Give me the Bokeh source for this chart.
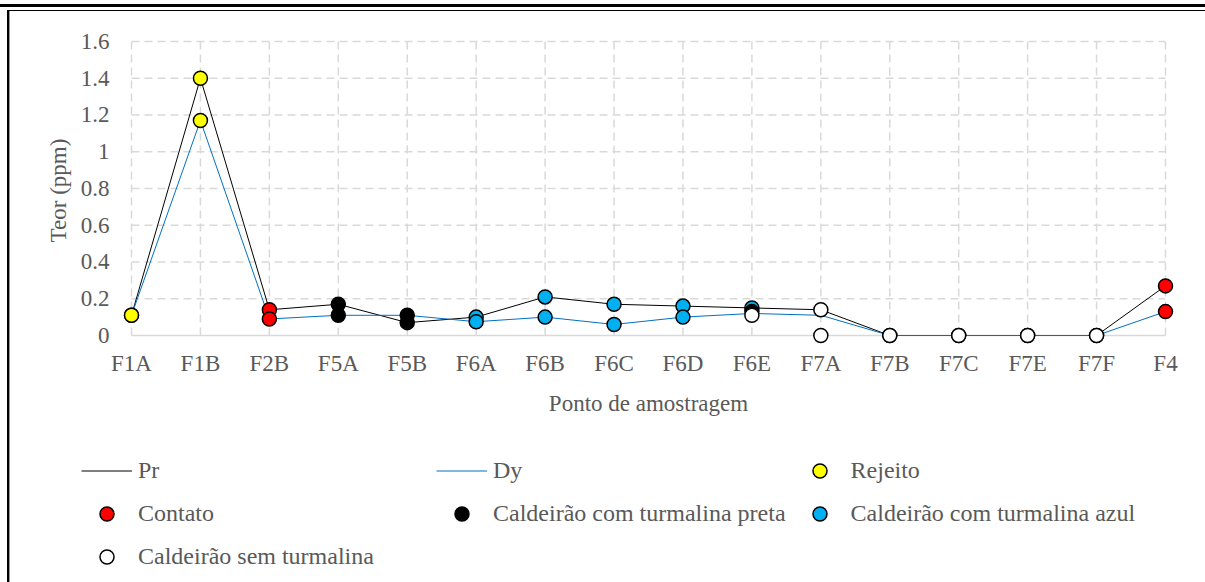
from bokeh.plotting import figure
from bokeh.layouts import column
from bokeh.models import Range1d, FixedTicker, Legend, LegendItem, GlobalInlineStyleSheet
from bokeh.embed import file_html
from bokeh.resources import INLINE

# ---- data ----
categories = ["F1A", "F1B", "F2B", "F5A", "F5B", "F6A", "F6B", "F6C",
              "F6D", "F6E", "F7A", "F7B", "F7C", "F7E", "F7F", "F4"]
pr_values = [0.11, 1.40, 0.14, 0.17, 0.07, 0.10, 0.21, 0.17,
             0.16, 0.15, 0.14, 0, 0, 0, 0, 0.27]
dy_values = [0.11, 1.17, 0.09, 0.11, 0.11, 0.075, 0.10, 0.06,
             0.10, 0.12, 0.11, 0, 0, 0, 0, 0.13]

rejeito_cat = ["F1A", "F1B", "F1A", "F1B"]
rejeito_val = [0.11, 1.40, 0.11, 1.17]
contato_cat = ["F2B", "F4", "F2B", "F4"]
contato_val = [0.14, 0.27, 0.09, 0.13]
azul_cat = ["F6A", "F6B", "F6C", "F6D", "F6E", "F6A", "F6B", "F6C", "F6D"]
azul_val = [0.10, 0.21, 0.17, 0.16, 0.15, 0.075, 0.10, 0.06, 0.10]
preta_cat = ["F5A", "F5B", "F5A", "F5B", "F6E"]
preta_val = [0.17, 0.11, 0.11, 0.07, 0.13]
sem_cat = ["F7A", "F7B", "F7C", "F7E", "F7F", "F6E", "F7A", "F7B", "F7C", "F7E", "F7F"]
sem_val = [0.14, 0, 0, 0, 0, 0.11, 0, 0, 0, 0, 0]

y_ticks = [0, 0.2, 0.4, 0.6, 0.8, 1.0, 1.2, 1.4, 1.6]
y_tick_labels = ["0", "0.2", "0.4", "0.6", "0.8", "1", "1.2", "1.4", "1.6"]

legend_labels = ["Pr", "Dy", "Rejeito", "Contato", "Caldeirão com turmalina preta",
                 "Caldeirão com turmalina azul", "Caldeirão sem turmalina"]

FONT = "Liberation Serif"
GREY = "#595959"
GRID = "#D9D9D9"
PR_COLOR = "black"
DY_COLOR = "#0070C0"
GROUP_COLORS = {"Rejeito": "#FFFF00", "Contato": "#FF0000",
                "Caldeirão com turmalina preta": "#000000",
                "Caldeirão com turmalina azul": "#00B0F0",
                "Caldeirão sem turmalina": "#FFFFFF"}

xi = list(range(len(categories)))

p = figure(width=1200, height=450, output_backend="svg", toolbar_location=None,
           frame_width=1052, frame_height=308,
           min_border_left=122, min_border_top=36, min_border_right=26, min_border_bottom=106,
           x_range=Range1d(-0.1306, 15.1306), y_range=Range1d(-0.04898, 1.6272))
p.border_fill_color = None
p.background_fill_color = "white"
p.outline_line_color = None
p.xgrid.visible = False
p.ygrid.visible = False

# grid lines (dashed) bounded to the data area
xmin, xmax = xi[0], xi[-1]
ymin, ymax = y_ticks[0], y_ticks[-1]
p.segment(x0=[xmin] * (len(y_ticks) - 1), x1=[xmax] * (len(y_ticks) - 1),
          y0=y_ticks[1:], y1=y_ticks[1:], line_color=GRID, line_width=1.5, line_dash="8 5")
p.segment(x0=xi, x1=xi, y0=[ymin] * len(xi), y1=[ymax] * len(xi),
          line_color=GRID, line_width=1.5, line_dash="8 5")
p.segment(x0=[xmin], x1=[xmax], y0=[0], y1=[0], line_color=GRID, line_width=1.5)

# series lines
p.line(xi, pr_values, line_color=PR_COLOR, line_width=1)
p.line(xi, dy_values, line_color=DY_COLOR, line_width=1)


def idx(cats):
    return [categories.index(c) for c in cats]


mk = dict(size=14, line_color="black", line_width=1.5)
p.scatter(idx(rejeito_cat), rejeito_val, fill_color=GROUP_COLORS["Rejeito"], **mk)
p.scatter(idx(contato_cat), contato_val, fill_color=GROUP_COLORS["Contato"], **mk)
p.scatter(idx(azul_cat), azul_val, fill_color=GROUP_COLORS["Caldeirão com turmalina azul"], **mk)
p.scatter(idx(preta_cat), preta_val, fill_color=GROUP_COLORS["Caldeirão com turmalina preta"], **mk)
p.scatter(idx(sem_cat), sem_val, fill_color=GROUP_COLORS["Caldeirão sem turmalina"], **mk)

# axes
p.xaxis.ticker = FixedTicker(ticks=xi)
p.xaxis.major_label_overrides = {i: c for i, c in zip(xi, categories)}
p.yaxis.ticker = FixedTicker(ticks=y_ticks)
p.yaxis.major_label_overrides = {t: l for t, l in zip(y_ticks, y_tick_labels)}
for ax in (p.xaxis, p.yaxis):
    ax.axis_line_color = None
    ax.major_tick_line_color = None
    ax.minor_tick_line_color = None
    ax.major_label_text_font = FONT
    ax.major_label_text_font_size = "23px"
    ax.major_label_text_color = GREY
    ax.axis_label_text_font = FONT
    ax.axis_label_text_font_size = "23px"
    ax.axis_label_text_color = GREY
    ax.axis_label_text_font_style = "normal"
p.xaxis.axis_label = "Ponto de amostragem"
p.yaxis.axis_label = "Teor (ppm)"
p.xaxis.major_label_standoff = 0
p.xaxis.axis_label_standoff = 12
p.yaxis.major_label_standoff = 7
p.yaxis.axis_label_standoff = 7

# ---- legend strip (separate figure so the legend is not clipped) ----
q = figure(width=1200, height=130, output_backend="svg", toolbar_location=None,
           frame_width=1200, frame_height=130, min_border=0,
           x_axis_location=None, y_axis_location=None,
           x_range=Range1d(0, 1), y_range=Range1d(0, 1))
q.border_fill_color = None
q.background_fill_color = None
q.outline_line_color = None
q.xgrid.visible = False
q.ygrid.visible = False

# legend-only proxies placed outside the visible range
off_x = [-5, -4]
off_y = [-5, -5]
items = []
for lab in legend_labels:
    if lab == "Pr":
        r = q.line(off_x, off_y, line_color=PR_COLOR, line_width=1)
    elif lab == "Dy":
        r = q.line(off_x, off_y, line_color=DY_COLOR, line_width=1)
    else:
        r = q.scatter(off_x[:1], off_y[:1], fill_color=GROUP_COLORS[lab],
                      line_color="black", line_width=1.5)
    items.append(LegendItem(label=lab, renderers=[r]))

legend = Legend(items=items, orientation="horizontal", ncols=3, location=(81, 6),
                glyph_width=51, glyph_height=35, spacing=8, padding=0, margin=0,
                label_standoff=6, label_width=290, border_line_color=None,
                background_fill_alpha=0, label_text_font=FONT,
                label_text_font_size="24px", label_text_color=GREY)
q.add_layout(legend)

css = """
body::before { content:""; position:fixed; left:0; top:4px; width:1205px; height:3px;
  background:#000; z-index:10; pointer-events:none; }
body::after { content:""; position:fixed; left:7px; top:10px; width:1400px; height:800px;
  border-top:1px solid #000; border-left:2px solid #000; box-shadow: inset 1px 0 0 #9a9a9a;
  z-index:10; pointer-events:none; }
"""
layout = column(p, q, spacing=0)
layout.stylesheets = [GlobalInlineStyleSheet(css=css)]

open("out.html", "w").write(file_html(layout, INLINE))
